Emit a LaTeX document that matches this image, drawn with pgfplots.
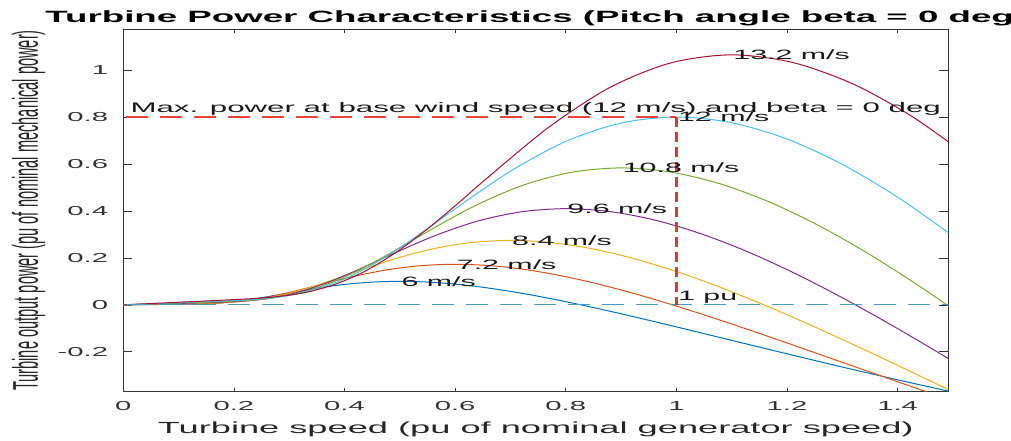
\documentclass[border=0pt]{standalone}
\usepackage{fontspec}
\setmainfont{Liberation Sans}[FakeStretch=2.25]
\newfontfamily\ylabfont{Liberation Sans}
\usepackage{graphicx}
\usepackage{pgfplots}
\pgfplotsset{compat=1.18}
\definecolor{c1}{rgb}{0,0.447,0.741}
\definecolor{c2}{rgb}{0.85,0.325,0.098}
\definecolor{c3}{rgb}{0.929,0.694,0.125}
\definecolor{c4}{rgb}{0.494,0.184,0.556}
\definecolor{c5}{rgb}{0.466,0.674,0.188}
\definecolor{c6}{rgb}{0.301,0.745,0.933}
\definecolor{c7}{rgb}{0.635,0.078,0.184}
\definecolor{zeroline}{rgb}{0.3,0.6,0.78}
\definecolor{maxline}{rgb}{0.92,0.25,0.25}
\definecolor{vline}{rgb}{0.8,0.25,0.25}
\begin{document}
\begin{tikzpicture}
\begin{axis}[
  scale only axis, width=825pt, height=362.5pt,
  xmin=0, xmax=1.4916, ymin=-0.37, ymax=1.174,
  xtick={0,0.2,0.4,0.6,0.8,1,1.2,1.4},
  ytick={-0.2,0,0.2,0.4,0.6,0.8,1},
  /pgf/number format/assume math mode=true,
  axis line style={draw=black!80, line width=0.8pt},
  tick style={black!80, line width=0.6pt},
  xtick style={/pgfplots/major tick length=4pt},
  ytick style={/pgfplots/major tick length=9pt},
  tick label style={font=\fontsize{13}{13}\selectfont, color=black!80},
  xticklabel style={anchor=base, inner sep=0pt, yshift=-18.5pt},
  yticklabel style={anchor=east, inner sep=0pt, xshift=-15pt},
  xlabel={Turbine speed (pu of nominal generator speed)},
  xlabel style={font=\fontsize{16.1}{16.1}\selectfont, color=black!85, at={(axis description cs:0.5,0)}, anchor=base, yshift=-41.5pt},
  ylabel={\ylabfont\scalebox{1}[2.45]{Turbine output power (pu of nominal mechanical power)}},
  ylabel style={font=\fontsize{14.6}{14.6}\selectfont, color=black!85, at={(axis description cs:-0.1034,0.5)}, anchor=base},
  title={Turbine Power Characteristics (Pitch angle beta = 0 deg)},
  title style={font=\fontsize{16.3}{16.3}\selectfont\bfseries, at={(axis description cs:0.5,1)}, anchor=base, yshift=0.5pt},
  every axis plot/.append style={line width=1pt, smooth},
]
% 6 m/s
\addplot[c1] table {
0 0
0.05 0.00115
0.1 0.00233
0.125 0.00321
0.15 0.00498
0.175 0.00836
0.2 0.0138
0.225 0.02127
0.25 0.0304
0.275 0.04056
0.3 0.0511
0.35 0.0712
0.4 0.0870
0.45 0.0968
0.5 0.1
0.55 0.0970
0.6 0.0883
0.65 0.0748
0.7 0.0573
0.75 0.0367
0.8 0.0135
0.85 -0.0116
0.9 -0.0381
0.95 -0.0657
1.0 -0.0939
1.1 -0.1513
1.2 -0.2086
1.3 -0.2649
1.4 -0.3194
1.5 -0.3718
};
% 7.2 m/s
\addplot[c2] table {
0 0
0.06 0.00198
0.12 0.00402
0.15 0.00555
0.18 0.00860
0.21 0.01445
0.24 0.02385
0.27 0.03676
0.30 0.05253
0.33 0.07009
0.36 0.08835
0.42 0.12298
0.48 0.15032
0.54 0.16724
0.60 0.1728
0.66 0.16753
0.72 0.15255
0.78 0.12924
0.84 0.09907
0.90 0.06338
0.96 0.02331
1.02 -0.02006
1.08 -0.06591
1.14 -0.11351
1.20 -0.16226
1.32 -0.26138
1.44 -0.36048
1.56 -0.45768
};
% 8.4 m/s
\addplot[c3] table {
0 0
0.07 0.00315
0.14 0.00639
0.175 0.00881
0.21 0.01366
0.245 0.02295
0.28 0.03787
0.315 0.05838
0.35 0.08342
0.385 0.11130
0.42 0.14030
0.49 0.19529
0.56 0.23870
0.63 0.26556
0.70 0.2744
0.77 0.26603
0.84 0.24224
0.91 0.20522
0.98 0.15731
1.05 0.10065
1.12 0.03702
1.19 -0.03186
1.26 -0.10466
1.33 -0.18026
1.40 -0.25767
1.54 -0.41506
};
% 9.6 m/s
\addplot[c4] table {
0 0
0.08 0.00470
0.16 0.00954
0.2 0.01314
0.24 0.02039
0.28 0.03425
0.32 0.05652
0.36 0.08714
0.40 0.12452
0.44 0.16614
0.48 0.20943
0.56 0.29151
0.64 0.35631
0.72 0.39641
0.80 0.4096
0.88 0.39711
0.96 0.36160
1.04 0.30634
1.12 0.23482
1.20 0.15024
1.28 0.05525
1.36 -0.04755
1.44 -0.15622
1.52 -0.26907
};
% 10.8 m/s
\addplot[c5] table {
0 0
0.09 0.00670
0.18 0.01358
0.225 0.01871
0.27 0.02903
0.315 0.04877
0.36 0.08048
0.405 0.12407
0.45 0.17729
0.495 0.23655
0.54 0.29819
0.63 0.41506
0.72 0.50733
0.81 0.56442
0.90 0.5832
0.99 0.56541
1.08 0.51485
1.17 0.43618
1.26 0.33435
1.35 0.21392
1.44 0.07867
1.53 -0.06771
};
% 12 m/s
\addplot[c6] table {
0 0
0.1 0.00918
0.2 0.01862
0.25 0.02567
0.3 0.03982
0.35 0.06690
0.4 0.1104
0.45 0.17019
0.5 0.2432
0.55 0.32449
0.6 0.40904
0.7 0.56936
0.8 0.69592
0.9 0.77424
1.0 0.8
1.1 0.7756
1.2 0.70624
1.3 0.59832
1.4 0.45864
1.5 0.29344
};
% 13.2 m/s
\addplot[c7] table {
0 0
0.11 0.01222
0.22 0.02479
0.275 0.03417
0.33 0.05301
0.385 0.08905
0.44 0.14694
0.495 0.22652
0.55 0.32370
0.605 0.43189
0.66 0.54443
0.77 0.75782
0.88 0.92627
0.99 1.03051
1.10 1.0648
1.21 1.03232
1.32 0.94001
1.43 0.79636
1.54 0.61045
};
% reference lines
\addplot[draw=zeroline, sharp plot, dash pattern=on 22pt off 12pt, line width=1pt] coordinates {(0.005,0) (1.5,0)};
\addplot[draw=maxline, sharp plot, dash pattern=on 22pt off 12pt, line width=1.1pt] coordinates {(0.005,0.8) (1,0.8)};
\addplot[draw=vline, sharp plot, dash pattern=on 10pt off 5pt, line width=2.2pt] coordinates {(1,0.8) (1,0)};
% labels
\begin{scope}[every node/.style={font=\fontsize{13.5}{13.5}\selectfont, text=black!90, inner sep=1.5pt, anchor=west}]
\node at (axis cs:1.1,1.0648) {13.2 m/s};
\node at (axis cs:1.0,0.8) {12 m/s};
\node at (axis cs:0.9,0.5832) {10.8 m/s};
\node at (axis cs:0.8,0.4096) {9.6 m/s};
\node at (axis cs:0.7,0.2744) {8.4 m/s};
\node at (axis cs:0.6,0.1728) {7.2 m/s};
\node at (axis cs:0.5,0.1) {6 m/s};
\node[anchor=south west] at (axis cs:1.0,0) {1 pu};
\node[anchor=south west, font=\fontsize{13.9}{13.9}\selectfont] at (axis cs:0.01,0.8) {Max. power at base wind speed (12 m/s) and beta = 0 deg};
\end{scope}
\end{axis}
\pgfresetboundingbox
\path[use as bounding box] (-123.3pt,-48.3pt) rectangle (887.7pt,391.7pt);
\end{tikzpicture}
\end{document}
